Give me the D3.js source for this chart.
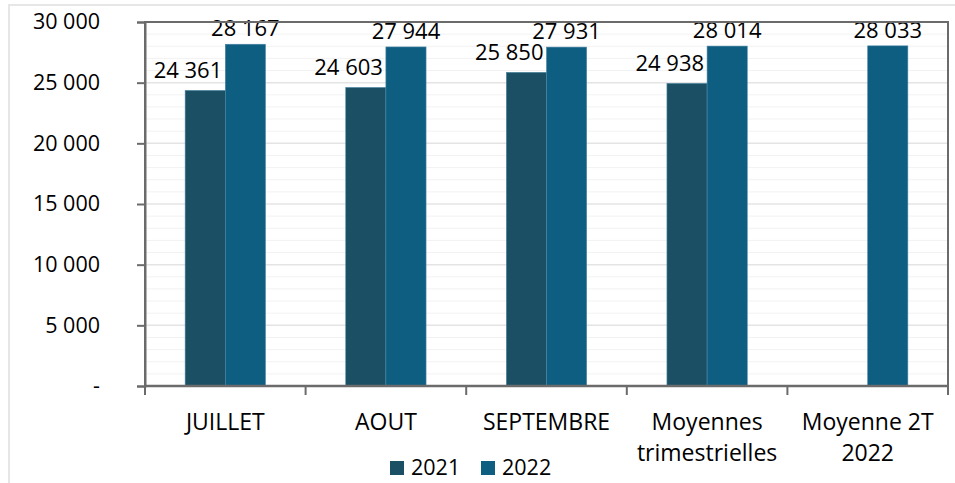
<!DOCTYPE html>
<html>
<head>
<meta charset="utf-8">
<script src="https://cdn.jsdelivr.net/npm/d3@7"></script>
<style>
  body { margin: 0; background: #fff; }
  text { font-family: "Open Sans", "Noto Sans", sans-serif; fill: #000; }
</style>
</head>
<body>
<svg id="chart"></svg>
<script>
const categories = [["JUILLET"], ["AOUT"], ["SEPTEMBRE"], ["Moyennes", "trimestrielles"], ["Moyenne 2T", "2022"]];
const series = ["2021", "2022"];
const values2021 = [24361, 24603, 25850, 24938, null];
const values2022 = [28167, 27944, 27931, 28014, 28033];
const yTicks = [0, 5000, 10000, 15000, 20000, 25000, 30000];

const colors = { "2021": "#1b5064", "2022": "#0e5e82" };

const width = 955, height = 483;
const margin = { top: 22, right: 7, bottom: 97, left: 145 };
const innerW = width - margin.left - margin.right;
const innerH = height - margin.top - margin.bottom;

const svg = d3.select("#chart").attr("width", width).attr("height", height);

// outer chart frame
svg.append("rect")
  .attr("x", 9).attr("y", 5)
  .attr("width", width).attr("height", height)
  .attr("fill", "none").attr("stroke", "#e6e6e6").attr("stroke-width", 2);

const chart = svg.append("g").attr("transform", `translate(${margin.left},${margin.top})`);

const x = d3.scaleBand().domain(d3.range(categories.length)).range([0, innerW]).paddingInner(0).paddingOuter(0);
const xs = d3.scaleBand().domain(series).range([x.bandwidth() * 0.25, x.bandwidth() * 0.75]);
const y = d3.scaleLinear().domain([0, 30000]).range([innerH, 0]);

// minor gridlines
chart.append("g").selectAll("line")
  .data(d3.range(1000, 30000, 1000).filter(v => v % 5000 !== 0))
  .join("line")
  .attr("x1", 0).attr("x2", innerW)
  .attr("y1", d => y(d)).attr("y2", d => y(d))
  .attr("stroke", "#f2f2f2").attr("stroke-width", 1);

// major gridlines
chart.append("g").selectAll("line")
  .data(yTicks.slice(1))
  .join("line")
  .attr("x1", 0).attr("x2", innerW)
  .attr("y1", d => y(d)).attr("y2", d => y(d))
  .attr("stroke", "#e4e4e4").attr("stroke-width", 1.5);

const fmt = v => v === 0 ? "-" : d3.format(",")(v).replace(/,/g, " ");

// bars
const rows = [];
categories.forEach((c, i) => {
  rows.push({ i, s: "2021", v: values2021[i] });
  rows.push({ i, s: "2022", v: values2022[i] });
});
const data = rows.filter(d => d.v != null);

chart.append("g").selectAll("rect")
  .data(data)
  .join("rect")
  .attr("x", d => x(d.i) + xs(d.s))
  .attr("y", d => y(d.v))
  .attr("width", xs.bandwidth())
  .attr("height", d => innerH - y(d.v))
  .attr("fill", d => colors[d.s])
  .attr("stroke", "#4a86a3").attr("stroke-width", 0.6);

// value labels (2021 ones pushed left so they don't collide, like excel does)
chart.append("g").selectAll("text")
  .data(data)
  .join("text")
  .attr("x", d => d.s === "2021"
    ? x(d.i) + xs(d.s) + xs.bandwidth() - 3
    : x(d.i) + xs(d.s) + xs.bandwidth() / 2)
  .attr("y", d => y(d.v) - (d.s === "2021" ? 12 : 8))
  .attr("text-anchor", d => d.s === "2021" ? "end" : "middle")
  .style("font-size", "22px")
  .text(d => fmt(d.v));

// plot frame
chart.append("rect")
  .attr("width", innerW).attr("height", innerH)
  .attr("fill", "none").attr("stroke", "#6b6b6b").attr("stroke-width", 2);

// y axis
const yAxis = chart.append("g")
  .call(d3.axisLeft(y).tickValues(yTicks).tickSize(8).tickPadding(37).tickFormat(fmt));
yAxis.select(".domain").attr("stroke", "#6b6b6b").attr("stroke-width", 2);
yAxis.selectAll(".tick line").attr("stroke", "#6b6b6b").attr("stroke-width", 2);
yAxis.selectAll(".tick text").style("font-size", "21.5px").attr("fill", "#000")
  .style("font-family", '"Open Sans", "Noto Sans", sans-serif');

// x axis ticks at category boundaries
chart.append("g").selectAll("line")
  .data(d3.range(categories.length + 1))
  .join("line")
  .attr("x1", d => d * x.bandwidth()).attr("x2", d => d * x.bandwidth())
  .attr("y1", innerH).attr("y2", innerH + 9)
  .attr("stroke", "#6b6b6b").attr("stroke-width", 2);

chart.append("line")
  .attr("x1", 0).attr("x2", innerW).attr("y1", innerH).attr("y2", innerH)
  .attr("stroke", "#6b6b6b").attr("stroke-width", 2.5);

// x labels
const xl = chart.append("g").selectAll("text")
  .data(categories)
  .join("text")
  .attr("text-anchor", "middle")
  .attr("transform", (d, i) => `translate(${x(i) + x.bandwidth() / 2},${innerH + 44})`)
  .style("font-size", "23px");
xl.selectAll("tspan")
  .data(d => d)
  .join("tspan")
  .attr("x", 0)
  .attr("dy", (d, j) => j === 0 ? 0 : 31)
  .text(d => d);

// legend
const legend = svg.append("g").attr("transform", "translate(390,475)");
const lg = legend.selectAll("g")
  .data(series)
  .join("g")
  .attr("transform", (d, i) => `translate(${i * 91},0)`);
lg.append("rect")
  .attr("x", 0).attr("y", -14)
  .attr("width", 14).attr("height", 14)
  .attr("fill", d => colors[d]);
lg.append("text")
  .attr("x", 21).attr("y", 0)
  .style("font-size", "21.5px")
  .text(d => d);
</script>
</body>
</html>
